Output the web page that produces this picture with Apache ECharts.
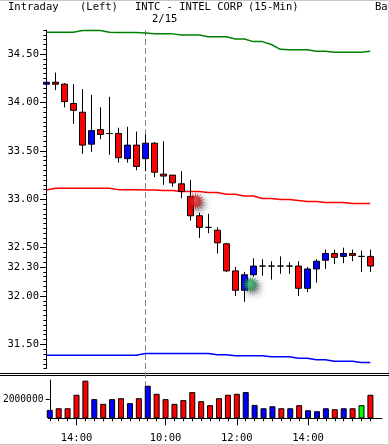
<!DOCTYPE html>
<html><head><meta charset="utf-8">
<script src="https://cdn.jsdelivr.net/npm/echarts@6/dist/echarts.min.js"></script>
<style>html,body{margin:0;padding:0;background:#fff}#c{width:389px;height:445px}</style>
</head><body><div id="c"></div><script>
// ---- data ----
const times = ['13:15','13:30','13:45','14:00','14:15','14:30','14:45','15:00','15:15','15:30','15:45',
  '09:30','09:45','10:00','10:15','10:30','10:45','11:00','11:15','11:30','11:45','12:00','12:15','12:30','12:45',
  '13:00','13:15','13:30','13:45','14:00','14:15','14:30','14:45','15:00','15:15','15:30','15:45'];
const newDayLabel = '2/15';
const axisLabelTimes = ['10:00','12:00','14:00'];
const opens  = [34.19,34.21,34.19,33.99,33.90,33.57,33.72,33.68,33.68,33.42,33.56,33.42,33.58,33.26,33.25,33.16,33.03,32.83,32.71,32.68,32.54,32.26,32.06,32.22,32.31,32.31,32.31,32.31,32.31,32.08,32.28,32.37,32.44,32.41,32.44,32.41,32.41];
const highs  = [34.25,34.31,34.20,34.19,34.14,34.08,33.95,34.06,33.74,33.75,33.70,33.67,33.59,33.60,33.25,33.29,33.20,32.86,32.85,32.71,32.55,32.30,32.25,32.39,32.38,32.36,32.41,32.35,32.36,32.30,32.38,32.48,32.48,32.50,32.48,32.47,32.48];
const lows   = [34.13,34.13,33.95,33.78,33.47,33.49,33.62,33.46,33.38,33.38,33.30,33.29,33.23,33.15,33.13,33.01,32.78,32.60,32.65,32.44,32.25,32.00,31.94,32.20,32.21,32.17,32.23,32.23,32.00,32.04,32.14,32.28,32.33,32.34,32.36,32.25,32.25];
const closes = [34.21,34.19,34.01,33.92,33.56,33.71,33.67,33.68,33.43,33.56,33.34,33.58,33.28,33.24,33.17,33.08,32.83,32.71,32.71,32.55,32.26,32.06,32.22,32.31,32.31,32.31,32.31,32.31,32.08,32.28,32.36,32.44,32.40,32.44,32.42,32.41,32.31];
const volumes = [880000,1050000,1050000,2460000,3930000,2000000,1510000,2000000,2100000,1580000,2100000,3400000,2560000,2000000,1510000,1900000,2740000,1790000,1370000,2100000,2460000,2560000,2740000,1400000,1050000,1260000,1050000,1050000,1370000,840000,740000,1050000,950000,1050000,1050000,1370000,2460000];
// tick direction of each bar: u = up, d = down, n = unchanged
const volDir = ['u','d','d','d','d','u','d','u','d','u','d','u','d','d','d','d','d','d','d','d','d','d','u','u','u','u','d','u','d','u','u','u','d','u','d','n','d'];
const upperBand = [34.726,34.726,34.726,34.726,34.745,34.748,34.745,34.727,34.725,34.725,34.725,34.72,34.712,34.712,34.71,34.698,34.698,34.698,34.68,34.68,34.68,34.657,34.657,34.63,34.63,34.60,34.55,34.546,34.546,34.546,34.53,34.53,34.52,34.52,34.52,34.52,34.53];
const midBand   = [33.097,33.114,33.114,33.114,33.114,33.114,33.114,33.114,33.10,33.10,33.10,33.097,33.097,33.09,33.09,33.08,33.08,33.08,33.07,33.07,33.052,33.052,33.035,33.035,33.008,33.008,32.997,32.997,32.987,32.977,32.977,32.966,32.966,32.966,32.956,32.956,32.956];
const lowerBand = [31.389,31.389,31.389,31.389,31.389,31.389,31.389,31.389,31.389,31.389,31.389,31.406,31.406,31.406,31.406,31.406,31.406,31.406,31.406,31.393,31.393,31.382,31.382,31.382,31.382,31.372,31.372,31.372,31.358,31.358,31.341,31.341,31.327,31.327,31.327,31.313,31.313];
const sellSignals = [[16, 32.98]];
const buySignals  = [[22, 32.12]];
const priceLabels = [31.5, 32.0, 32.3, 32.5, 33.0, 33.5, 34.0, 34.5];
const volLabels = [2000000];

// ---- build ----
const FONT = 'DejaVu Sans Mono';
const idx = times.map((t, i) => i);
const labelIdx = idx.filter(i => axisLabelTimes.indexOf(times[i]) >= 0 && !(i < 11 && times[i] !== '14:00'));
const dayIdx = times.indexOf('09:30');
const volColors = {u: '#0000ff', d: '#ff0000', n: '#00ff00'};

function starPath() {
  const n = 18, pts = [];
  for (let k = 0; k < n * 2; k++) {
    const r = k % 2 === 0 ? 50 : 24;
    const a = Math.PI * k / n - Math.PI / 2;
    pts.push((50 + r * Math.cos(a)).toFixed(1) + ',' + (50 + r * Math.sin(a)).toFixed(1));
  }
  return 'path://M' + pts.join('L') + 'Z';
}
const STAR = starPath();

const X_MIN = -0.15, X_MAX = 37.3;
const chart = echarts.init(document.getElementById('c'), null, {renderer: 'canvas'});
const lineSeries = (data, color) => ({
  type: 'line', xAxisIndex: 0, yAxisIndex: 0, data: data.map((v, i) => [i, v]),
  showSymbol: false, symbol: 'none', z: 1, silent: true,
  lineStyle: {color: color, width: 1.5}
});
const option = {
  animation: false,
  backgroundColor: '#fff',
  textStyle: {fontFamily: FONT},
  grid: [
    {left: 45, top: 30, width: 337, height: 338.6},
    {left: 45, top: 380, width: 337, height: 38.3}
  ],
  xAxis: [
    {gridIndex: 0, type: 'value', min: X_MIN, max: X_MAX, show: false},
    {gridIndex: 1, type: 'value', min: X_MIN, max: X_MAX, position: 'bottom',
      axisLine: {show: true, onZero: false, lineStyle: {color: '#000', width: 1}},
      axisTick: {show: true, customValues: idx, length: 3, lineStyle: {color: '#000'}},
      axisLabel: {show: false}, splitLine: {show: false}},
    {gridIndex: 1, type: 'value', min: X_MIN, max: X_MAX, position: 'bottom',
      axisLine: {show: false, onZero: false},
      axisTick: {show: true, customValues: labelIdx, length: 7, lineStyle: {color: '#000'}},
      axisLabel: {show: true, customValues: labelIdx, formatter: v => times[Math.round(v)] || '',
        margin: 14, color: '#000', fontFamily: FONT, fontSize: 10.5},
      splitLine: {show: false}}
  ],
  yAxis: [
    {gridIndex: 0, type: 'value', min: 31.25, max: 34.75, interval: 0.05, position: 'left',
      axisLine: {show: true, lineStyle: {color: '#000', width: 1}},
      axisTick: {show: true, length: 3, lineStyle: {color: '#000'}},
      axisLabel: {show: false}, splitLine: {show: false}},
    {gridIndex: 0, type: 'value', min: 31.25, max: 34.75, position: 'left',
      axisLine: {show: false},
      axisTick: {show: true, customValues: priceLabels, length: 5, lineStyle: {color: '#000'}},
      axisLabel: {show: true, customValues: priceLabels, formatter: v => v.toFixed(2), margin: 6,
        color: '#000', fontFamily: FONT, fontSize: 10.5},
      splitLine: {show: false}},
    {gridIndex: 1, type: 'value', min: 0, max: 4000000, position: 'left',
      axisLine: {show: true, lineStyle: {color: '#000', width: 1}},
      axisTick: {show: true, customValues: volLabels, length: 4, lineStyle: {color: '#000'}},
      axisLabel: {show: true, customValues: volLabels, formatter: v => String(v), margin: 5,
        color: '#000', fontFamily: FONT, fontSize: 9.6},
      splitLine: {show: false}}
  ],
  series: [
    lineSeries(upperBand, '#008000'),
    lineSeries(midBand, '#ff0000'),
    lineSeries(lowerBand, '#0000ff'),
    {type: 'candlestick', xAxisIndex: 0, yAxisIndex: 0, z: 3, barWidth: 6,
      data: opens.map((o, i) => [i, o, closes[i], lows[i], highs[i]]),
      itemStyle: {color: '#0000ff', color0: '#ff0000', borderColor: '#000', borderColor0: '#000',
        borderColorDoji: '#000', borderWidth: 1}},
    {type: 'scatter', xAxisIndex: 0, yAxisIndex: 0, z: 5, data: sellSignals, symbol: STAR,
      symbolSize: 19, symbolOffset: [5, 0],
      itemStyle: {color: new echarts.graphic.RadialGradient(0.5, 0.5, 0.5, [{offset: 0, color: '#ff3030'}, {offset: 1, color: '#a00000'}]),
        shadowBlur: 6, shadowColor: 'rgba(0,0,0,0.65)', shadowOffsetX: 3, shadowOffsetY: 3}},
    {type: 'scatter', xAxisIndex: 0, yAxisIndex: 0, z: 5, data: buySignals, symbol: STAR,
      symbolSize: 19, symbolOffset: [6, 0],
      itemStyle: {color: new echarts.graphic.RadialGradient(0.5, 0.5, 0.5, [{offset: 0, color: '#40c080'}, {offset: 1, color: '#0c6838'}]),
        shadowBlur: 6, shadowColor: 'rgba(0,0,0,0.65)', shadowOffsetX: 3, shadowOffsetY: 3}},
    {type: 'bar', xAxisIndex: 1, yAxisIndex: 2, barWidth: 6, z: 3,
      data: volumes.map((v, i) => [i, v]),
      itemStyle: {color: p => volColors[volDir[p.dataIndex]], borderColor: '#000', borderWidth: 1}}
  ]
};
chart.setOption(option);

const dashX = chart.convertToPixel({xAxisIndex: 0}, dayIdx);
const dashTop = chart.convertToPixel({yAxisIndex: 0}, 34.75);
const dashBot = chart.convertToPixel({yAxisIndex: 2}, 0);
const txt = (id, x, y, s) => ({id: id, type: 'text', left: x, top: y, z: 10,
  style: {text: s, fill: '#000', font: '10.5px "' + FONT + '"'}});
chart.setOption({graphic: [
  {id: 'bt', type: 'line', shape: {x1: 0, y1: 0.5, x2: 389, y2: 0.5}, style: {stroke: '#c8c8c8', lineWidth: 1}},
  {id: 'bb', type: 'line', shape: {x1: 0, y1: 444.5, x2: 389, y2: 444.5}, style: {stroke: '#c8c8c8', lineWidth: 1}},
  {id: 'br', type: 'line', shape: {x1: 388.5, y1: 0, x2: 388.5, y2: 445}, style: {stroke: '#d8d8d8', lineWidth: 1}},
  {id: 's1', type: 'line', shape: {x1: 0, y1: 373.5, x2: 389, y2: 373.5}, style: {stroke: '#000', lineWidth: 1}},
  {id: 's2', type: 'line', shape: {x1: 0, y1: 375.5, x2: 389, y2: 375.5}, style: {stroke: '#000', lineWidth: 1}},
  {id: 'dash', type: 'line', z: 1, shape: {x1: Math.round(dashX) + 0.5, y1: dashTop, x2: Math.round(dashX) + 0.5, y2: dashBot},
    style: {stroke: '#888', lineWidth: 1, lineDash: [6, 3]}},
  txt('t1', 8, 2, 'Intraday'),
  txt('t2', 80, 2, '(Left)'),
  txt('t3', 135, 2, 'INTC - INTEL CORP'),
  txt('t4', 248, 2, '(15-Min)'),
  txt('t5', 375, 2, 'Ba'),
  txt('t6', Math.round(dashX) + 7, 14, newDayLabel)
]});
</script></body></html>
